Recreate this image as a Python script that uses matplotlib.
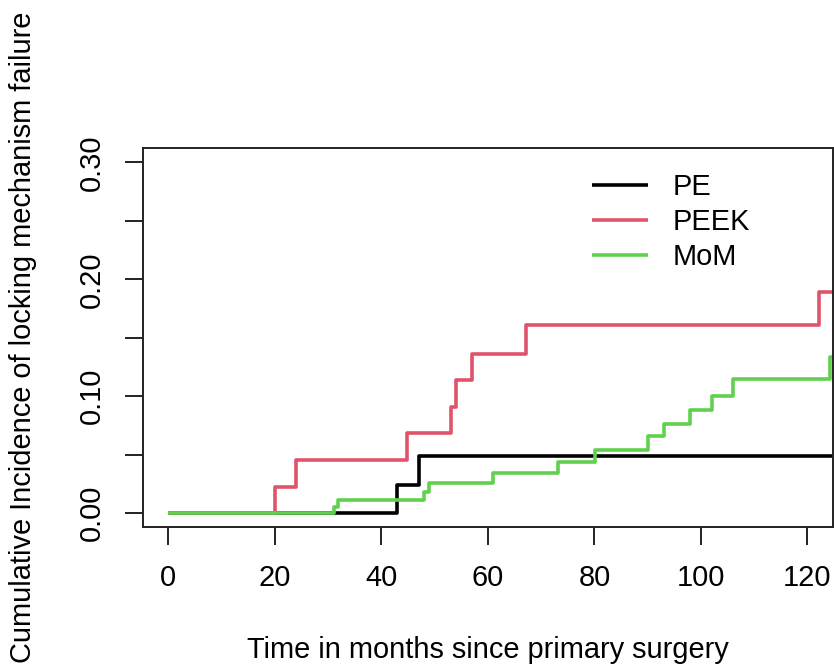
import matplotlib
matplotlib.use("Agg")
import matplotlib.pyplot as plt

plt.rcParams['font.family'] = ['Liberation Sans', 'DejaVu Sans']

# Data
pe_time = [0, 42.9, 47.0, 126]
pe_ci = [0, 0.024, 0.0488, 0.0488]

peek_time = [0, 20.0, 24.0, 44.9, 53.1, 54.0, 57.0, 67.1, 122.1, 126]
peek_ci = [0, 0.0227, 0.0455, 0.0682, 0.0909, 0.1136, 0.1364, 0.1606, 0.1894, 0.1894]

mom_time = [0, 31.2, 31.9, 48.1, 48.9, 61.0, 73.1, 80.1, 90.0, 93.0, 98.0, 102.1, 106.1, 124.2, 126]
mom_ci = [0, 0.0055, 0.0113, 0.018, 0.026, 0.0346, 0.0439, 0.0539, 0.0658, 0.0766, 0.088, 0.0999, 0.115, 0.134, 0.134]

series_names = ["PE", "PEEK", "MoM"]
series_colors = ["#000000", "#DF536B", "#61D04F"]

x_ticks = [0, 20, 40, 60, 80, 100, 120]
y_ticks = [0.00, 0.05, 0.10, 0.15, 0.20, 0.25, 0.30]
y_ticklabels = ["0.00", "", "0.10", "", "0.20", "", "0.30"]

FS = 20.9

fig = plt.figure(figsize=(8.34, 6.69), dpi=100)
W, H = 834, 669
left, right, top, bottom = 142.7, 833.0, 148.3, 527.3
ax = fig.add_axes([left / W, 1 - bottom / H, (right - left) / W, (bottom - top) / H])

for t, v, name, c in zip([pe_time, peek_time, mom_time], [pe_ci, peek_ci, mom_ci], series_names, series_colors):
    ax.step(t, v, where='post', color=c, lw=2.6, label=name, solid_capstyle='butt')

ax.set_xlim(-4.8, 124.8)
ax.set_ylim(-0.012, 0.312)
ax.set_xticks(x_ticks)
ax.set_xticklabels([str(v) for v in x_ticks], fontsize=FS)
ax.set_yticks(y_ticks)
ax.set_yticklabels(y_ticklabels, fontsize=FS, rotation=90, va='center')
ax.tick_params(axis='both', direction='out', length=12.7, width=1.4, color='#222222')
ax.tick_params(axis='x', pad=14)
ax.tick_params(axis='y', pad=14)
for s in ax.spines.values():
    s.set_linewidth(1.4)
    s.set_color('#222222')

ax.set_xlabel("Time in months since primary surgery", fontsize=FS, va='baseline')
ax.xaxis.set_label_coords(0.5, (bottom - 658) / (bottom - top))
ax.set_ylabel("Cumulative Incidence of locking mechanism failure", fontsize=FS, va='baseline')
ax.yaxis.set_label_coords((31 - left) / (right - left), 0.5)

leg = ax.legend(loc='upper left', bbox_to_anchor=((592.3 - left) / (right - left), 1 - (172.8 - top) / (bottom - top)),
                frameon=False, fontsize=FS, handlelength=1.91, handletextpad=0.85,
                labelspacing=0.25, borderpad=0, borderaxespad=0)

fig.savefig("out.png", dpi=100)
